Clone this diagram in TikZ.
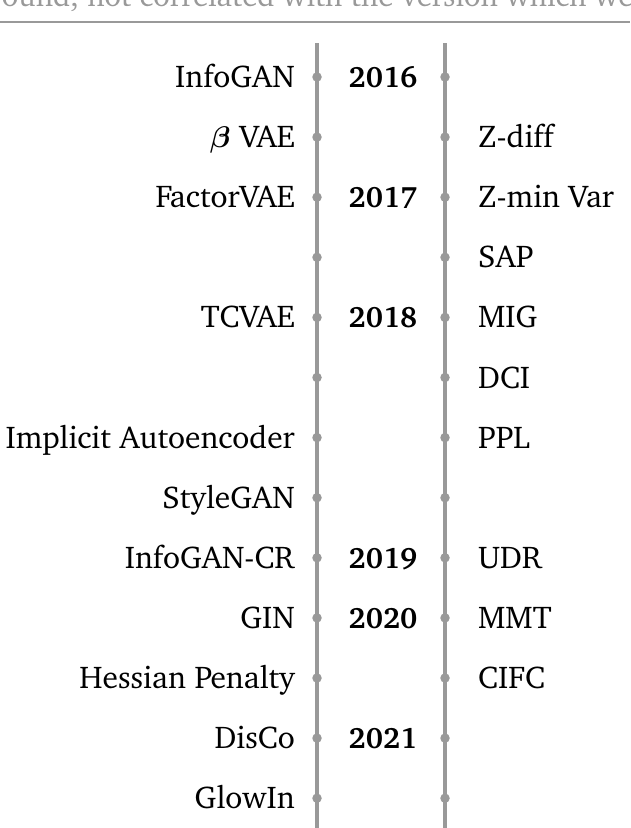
\documentclass[tikz,border=0pt]{standalone}
\usepackage[T1]{fontenc}
\usepackage{charter}
\usepackage{amsmath}
\usepackage{bm}
\usetikzlibrary{calc}
\begin{document}
\begin{tikzpicture}[x=1pt,y=-1pt,
  lbl/.style={font=\fontsize{31.5}{34}\selectfont, inner sep=0pt},
  yr/.style={inner sep=0pt, font=\fontsize{29.5}{32}\selectfont\bfseries},
  lt/.style={lbl, anchor=base east, xshift=-22pt, yshift=-10.5pt},
  rt/.style={lbl, anchor=base west, xshift=33pt, yshift=-10.5pt},
  rail/.style={draw=gray!80, line width=3.2pt},
  dot/.style={circle, fill=gray!80, inner sep=0pt, minimum size=9.5pt}]
\useasboundingbox (0,0) rectangle (630,828);
% top cut text and rule
\node[inner sep=0pt, font=\fontsize{30.5}{33}\selectfont, text=gray!80, anchor=base west] (cap) at (-8,6.5) {found, not correlated with the version which we};
\coordinate (hl) at (0,21.5); \coordinate (hr) at (630,21.5);
\draw[gray!80, line width=2pt] (hl) -- (hr);
% rails
\coordinate (at) at (317,43); \coordinate (ab) at (317,830);
\coordinate (bt) at (445,43); \coordinate (bb) at (445,830);
\draw[rail] (at) -- (ab);
\draw[rail] (bt) -- (bb);
% rows
\foreach \i in {1,...,13}{
  \pgfmathsetmacro{\yy}{77+(\i-1)*60.1}
  \node[dot] (l\i) at (317,\yy) {};
  \node[dot] (r\i) at (445,\yy) {};
  \coordinate (m\i) at (383,\yy);
}
% left labels
\node[lt] (n1) at (l1) {InfoGAN};
\node[lt] (n2) at (l2) {\scalebox{1.2}{$\bm{\beta}$}\hspace{9pt}VAE};
\node[lt] (n3) at (l3) {FactorVAE};
\node[lt] (n5) at (l5) {TCVAE};
\node[lt] (n7) at (l7) {Implicit Autoencoder};
\node[lt] (n8) at (l8) {StyleGAN};
\node[lt] (n9) at (l9) {InfoGAN-CR};
\node[lt] (n10) at (l10) {GIN};
\node[lt] (n11) at (l11) {Hessian Penalty};
\node[lt] (n12) at (l12) {DisCo};
\node[lt] (n13) at (l13) {GlowIn};
% years
\node[yr, anchor=base, yshift=-10.5pt] (y1) at (m1) {2016};
\node[yr, anchor=base, yshift=-10.5pt] (y3) at (m3) {2017};
\node[yr, anchor=base, yshift=-10.5pt] (y5) at (m5) {2018};
\node[yr, anchor=base, yshift=-10.5pt] (y9) at (m9) {2019};
\node[yr, anchor=base, yshift=-10.5pt] (y10) at (m10) {2020};
\node[yr, anchor=base, yshift=-10.5pt] (y12) at (m12) {2021};
% right labels
\node[rt] (k2) at (r2) {Z-diff};
\node[rt] (k3) at (r3) {Z-min Var};
\node[rt] (k4) at (r4) {SAP};
\node[rt] (k5) at (r5) {MIG};
\node[rt] (k6) at (r6) {DCI};
\node[rt] (k7) at (r7) {PPL};
\node[rt] (k9) at (r9) {UDR};
\node[rt] (k10) at (r10) {MMT};
\node[rt] (k11) at (r11) {CIFC};
\end{tikzpicture}
\end{document}
